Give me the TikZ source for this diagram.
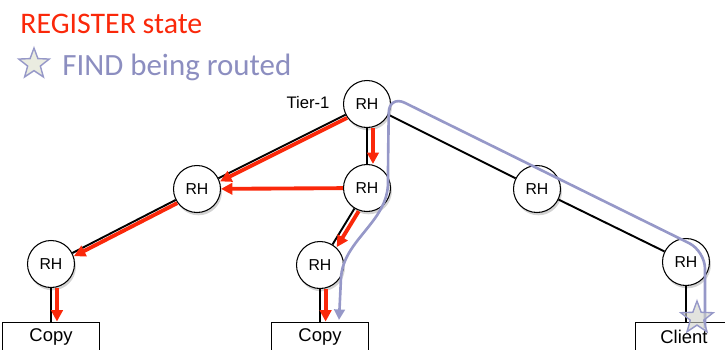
\documentclass[tikz,border=0pt]{standalone}
\usepackage{fontspec}
\setmainfont{Liberation Sans}
\newfontfamily\calibri{Carlito}
\usetikzlibrary{arrows.meta,shapes.geometric,shadows}

\definecolor{regred}{RGB}{250,40,10}
\definecolor{findblue}{RGB}{150,152,200}
\definecolor{findtext}{RGB}{140,142,192}
\definecolor{starfill}{RGB}{234,236,224}

\tikzset{
  rh/.style={circle, draw=black, line width=0.6pt, fill=white, minimum size=0.94cm,
    inner sep=0pt, font=\fontsize{9}{10}\selectfont,
    drop shadow={shadow xshift=0.8pt, shadow yshift=-1.6pt, opacity=0.35}},
  leafbox/.style={draw=black, line width=0.5pt, fill=white, minimum width=1.94cm,
    minimum height=0.6cm, inner sep=0pt, font=\fontsize{10.5}{12}\selectfont},
  link/.style={line width=1.1pt, black},
  reg/.style={line width=2.2pt, regred, -{Triangle[length=6.5pt,width=6.5pt]}},
  regoff/.style={transform canvas={shift={#1}}},
  find/.style={line width=1.5pt, findblue, -{Triangle[length=6pt,width=6pt]}},
  starmark/.style={star, star points=5, star point ratio=2.4, draw=findblue,
    line width=0.8pt, fill=starfill, inner sep=0pt, minimum size=0.64cm},
}

\begin{document}
\begin{tikzpicture}[x=0.02cm, y=-0.02cm]
	\useasboundingbox (0,0) rectangle (725,349);
	\clip (0,0) rectangle (725,349);
	
	% Legend
	\node[anchor=base west, inner sep=0pt, text=regred, font=\calibri\fontsize{17}{20}\selectfont] (regtitle) at (20,33) {REGISTER state};
	\node[starmark] (legstar) at (34,64) {};
	\node[anchor=base west, inner sep=0pt, text=findtext, font=\calibri\fontsize{17.6}{20}\selectfont] (findtitle) at (62,75) {FIND being routed};
	
	% Resolution handlers
	\node[rh] (t1) at (367,104) {RH};
	\node[rh] (l2) at (197,189) {RH};
	\node[rh] (m2) at (367,188) {RH};
	\node[rh] (r2) at (537,189) {RH};
	\node[rh] (l3) at (51,264) {RH};
	\node[rh] (m3) at (320,265) {RH};
	\node[rh] (r3) at (686,262) {RH};
	\node[font=\fontsize{9.5}{11}\selectfont] (tierlbl) at (308,103) {Tier-1};
	
	% Copies and client
	\node[leafbox] (lcopy) at (51,337) {Copy};
	\node[leafbox] (mcopy) at (320,337) {Copy};
	\node[leafbox] (client) at (684,337) {Client};
	
	% Tree links
	\draw[link] (t1) -- (l2);
	\draw[link] (t1) -- (m2);
	\draw[link] (t1) -- (r2);
	\draw[link] (l2) -- (l3);
	\draw[link] (m2) -- (m3);
	\draw[link] (r2) -- (r3);
	\draw[link] (l3) -- (lcopy);
	\draw[link] (m3) -- (mcopy);
	\draw[link] (r3) -- (r3 |- client.north);
	
	% REGISTER propagation
	\draw[reg, regoff={(0.9pt,-1.8pt)}] (t1) -- (l2);
	\draw[reg, regoff={(3.4pt,0pt)}] (t1) -- (m2);
	\draw[reg] (m2) -- (l2);
	\draw[reg, regoff={(0.9pt,-1.8pt)}] (l2) -- (l3);
	\draw[reg, regoff={(2.4pt,-1.5pt)}] (m2) -- (m3);
	\draw[reg, regoff={(3.4pt,0pt)}] (l3) -- (lcopy);
	\draw[reg, regoff={(3.2pt,0pt)}] (m3) -- (mcopy);
	
	% FIND route
	\coordinate (findend) at (339,320);
	\draw[find] {[rounded corners=10pt] (705,328) -- (705,251) -- (389,95) -- (388,165)}
		.. controls (388,222) and (343,240) .. (341,278) -- (findend);
	\node[starmark, minimum size=0.68cm, fill=gray!25!starfill, fill opacity=0.6] (clstar) at (697,318) {};
	
\end{tikzpicture}
\end{document}
